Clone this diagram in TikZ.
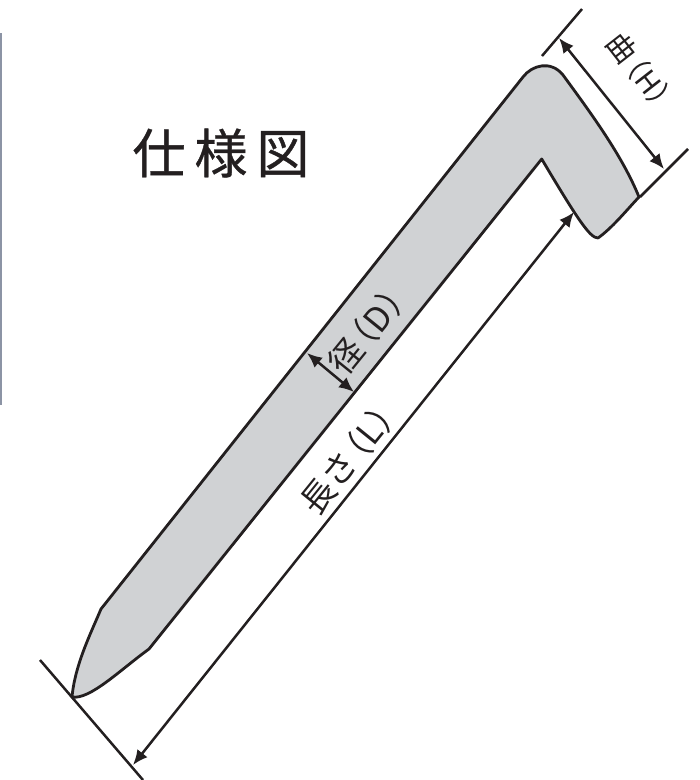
\documentclass[tikz,border=0pt]{standalone}
\usepackage{fontspec}
\newfontfamily\cjk{Noto Sans CJK JP}
\newfontfamily\cjktitle[FakeBold=0.7]{Noto Sans CJK JP}
\usetikzlibrary{arrows.meta}
\definecolor{nailgray}{RGB}{208,210,212}
\definecolor{ink}{RGB}{35,31,32}
\definecolor{sidebar}{RGB}{140,148,165}
\tikzset{
 x=1pt,y=-1pt,
 extline/.style={draw=ink,line width=2.5pt},
 dimline/.style={draw=ink,line width=2.5pt,{Latex[length=15pt,width=13pt]}-{Latex[length=15pt,width=13pt]}},
 dimlabel/.style={text=ink,font=\cjk\fontsize{34}{34}\selectfont,inner sep=0pt},
 hlabelstyle/.style={text=ink,font=\cjk\fontsize{29}{29}\selectfont,inner sep=0pt},
 titlelabel/.style={text=ink,font=\cjktitle\fontsize{53}{53}\selectfont,inner sep=0pt}
}
\begin{document}
\begin{tikzpicture}
\useasboundingbox (0,0) rectangle (700,780);
\fill[sidebar] (0,33) rectangle (2.2,405);
% nail
\draw[fill=nailgray,draw=ink,line width=2.8pt,line join=round]
 (72,697) .. controls (75,665) and (90,635) .. (101,609)
 -- (523,77) .. controls (532,65) and (551,60) .. (563,75)
 .. controls (590,112) and (622,155) .. (639,197)
 .. controls (625,212) and (612,228) .. (598,238)
 .. controls (590,238) and (578,220) .. (541.7,159)
 -- (149,649) .. controls (120,670) and (90,700) .. (72,697) -- cycle;
\coordinate (topA) at (582,9);
\coordinate (topB) at (542,56);
\coordinate (rightA) at (688,149);
\coordinate (rightB) at (640,197);
\coordinate (tipA) at (40,660);
\coordinate (tipB) at (143,780);
\draw[extline] (topA) -- (topB);
\draw[extline] (rightA) -- (rightB);
\draw[extline] (tipA) -- (tipB);
\coordinate (hA) at (559,38);
\coordinate (hB) at (664,169);
\coordinate (dA) at (307,353);
\coordinate (dB) at (354,392);
\coordinate (lA) at (133,765);
\coordinate (lB) at (574,212);
\draw[dimline] (hA) -- (hB);
\draw[dimline] (dA) -- (dB);
\draw[dimline] (lA) -- (lB);
\node[titlelabel] (title) at (221,153) {仕\hspace{9pt}様\hspace{9pt}図};
\node[dimlabel,rotate=51] (dlabel) at (371,326) {径\hspace{-13pt}（D）};
\node[dimlabel,rotate=51] (llabel) at (352,454) {長さ\hspace{-13pt}（L）};
\node[hlabelstyle,rotate=-52] (hlabel) at (643,75) {曲\hspace{-12pt}（H）};
\end{tikzpicture}
\end{document}
